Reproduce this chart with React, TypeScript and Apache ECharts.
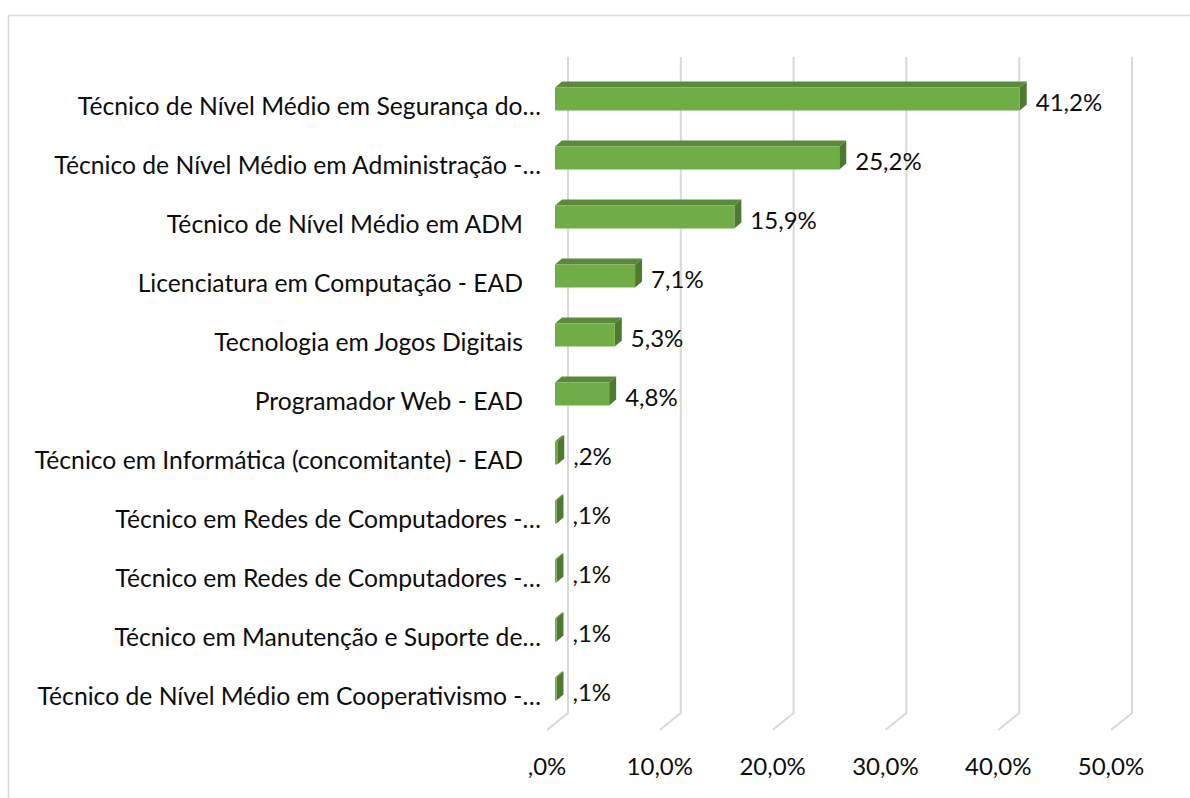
import React, { useEffect, useRef } from "react";
import * as echarts from "echarts";

const categories = [
  "Técnico de Nível Médio em Segurança do…",
  "Técnico de Nível Médio em Administração -…",
  "Técnico de Nível Médio em ADM",
  "Licenciatura em Computação - EAD",
  "Tecnologia em Jogos Digitais",
  "Programador Web - EAD",
  "Técnico em Informática (concomitante) - EAD",
  "Técnico em Redes de Computadores -…",
  "Técnico em Redes de Computadores -…",
  "Técnico em Manutenção e Suporte de…",
  "Técnico de Nível Médio em Cooperativismo -…",
];
const values = [41.2, 25.2, 15.9, 7.1, 5.3, 4.8, 0.2, 0.1, 0.1, 0.1, 0.1];
const xTicks = [0, 10, 20, 30, 40, 50];

const FONT = "Lato";
const FS = 24;
const FS_CAT = 24.7;
const TEXT = "#0d0d0d";

function fmtPct(v: number): string {
  let s = v.toFixed(1).replace(".", ",");
  if (s.startsWith("0,")) s = s.slice(1);
  return s + "%";
}

export default function App() {
  const ref = useRef<HTMLDivElement>(null);
  useEffect(() => {
    if (!ref.current) return;
    const chart = echarts.init(ref.current, undefined, { renderer: "svg" });
    const DX = 7;
    const DY = -6;
    const BAR_H = 23;
    const option: any = {
      animation: false,
      backgroundColor: "#fff",
      graphic: [
        {
          type: "rect",
          shape: { x: 8.5, y: 15.5, width: 1200, height: 800 },
          style: { fill: "none", stroke: "#d9d9d9", lineWidth: 1.5 },
          silent: true,
        },
      ],
      grid: { left: 547, right: 79, top: 75.5, bottom: 73.5 },
      xAxis: {
        type: "value",
        min: 0,
        max: 50,
        interval: 10,
        axisLine: { show: false },
        axisTick: { show: false },
        splitLine: { show: false },
        axisLabel: {
          margin: 29,
          fontFamily: FONT,
          fontSize: FS,
          color: TEXT,
          formatter: (v: number) => fmtPct(v),
        },
      },
      yAxis: {
        type: "category",
        inverse: true,
        data: categories.map((_, i) => String(i)),
        axisLine: { show: false },
        axisTick: { show: false },
        splitLine: { show: false },
        axisLabel: {
          margin: 6,
          fontFamily: FONT,
          fontSize: FS_CAT,
          color: TEXT,
          formatter: (v: string) => {
            const name = categories[Number(v)];
            return name.endsWith("…") ? name : "{p|" + name + "}";
          },
          rich: {
            p: { fontFamily: FONT, fontSize: FS_CAT, color: TEXT, padding: [0, 18, 0, 0] },
          },
        },
      },
      series: [
        {
          type: "custom",
          z: 1,
          data: xTicks.map((t) => [t, 0]),
          renderItem: (params: any, api: any) => {
            const cs = params.coordSys;
            const p = api.coord([api.value(0), 0]);
            const x = p[0];
            const top = cs.y - 18.5;
            const backBottom = cs.y + cs.height - 11.5;
            const front = cs.y + cs.height + 5.5;
            return {
              type: "polyline",
              shape: {
                points: [
                  [x + 21, top],
                  [x + 21, backBottom],
                  [x, front],
                ],
              },
              style: { stroke: "#d9d9d9", lineWidth: 2, fill: "none" },
              silent: true,
            };
          },
        },
        {
          type: "custom",
          z: 2,
          data: values.map((v, i) => [v, i]),
          renderItem: (params: any, api: any) => {
            const v = api.value(0);
            const idx = api.value(1);
            const p0 = api.coord([0, idx]);
            const p1 = api.coord([v, idx]);
            const x0 = p0[0] + 8;
            const x1 = Math.max(p1[0] + 8, x0 + 1.5);
            const cy = p0[1] - 6;
            const y0 = cy - BAR_H / 2;
            const y1 = cy + BAR_H / 2;
            return {
              type: "group",
              children: [
                {
                  type: "polygon",
                  shape: {
                    points: [
                      [x0, y0],
                      [x0 + DX, y0 + DY],
                      [x1 + DX, y0 + DY],
                      [x1, y0],
                    ],
                  },
                  style: { fill: "#5a8a3a" },
                },
                {
                  type: "polygon",
                  shape: {
                    points: [
                      [x1, y0],
                      [x1 + DX, y0 + DY],
                      [x1 + DX, y1 + DY],
                      [x1, y1],
                    ],
                  },
                  style: { fill: "#4e7a30" },
                },
                {
                  type: "rect",
                  shape: { x: x0, y: y0, width: x1 - x0, height: BAR_H },
                  style: { fill: "#70ad47" },
                },
                {
                  type: "text",
                  x: x1 + DX + 9,
                  y: cy + 2,
                  style: {
                    text: fmtPct(v),
                    fontFamily: FONT,
                    fontSize: FS,
                    fill: TEXT,
                    align: "left",
                    verticalAlign: "middle",
                  },
                },
              ],
            };
          },
        },
      ],
    };
    chart.setOption(option);
    return () => chart.dispose();
  }, []);
  return (
    <div
      ref={ref}
      style={{ position: "fixed", left: 0, top: 0, width: 1190, height: 798, background: "#fff" }}
    />
  );
}
